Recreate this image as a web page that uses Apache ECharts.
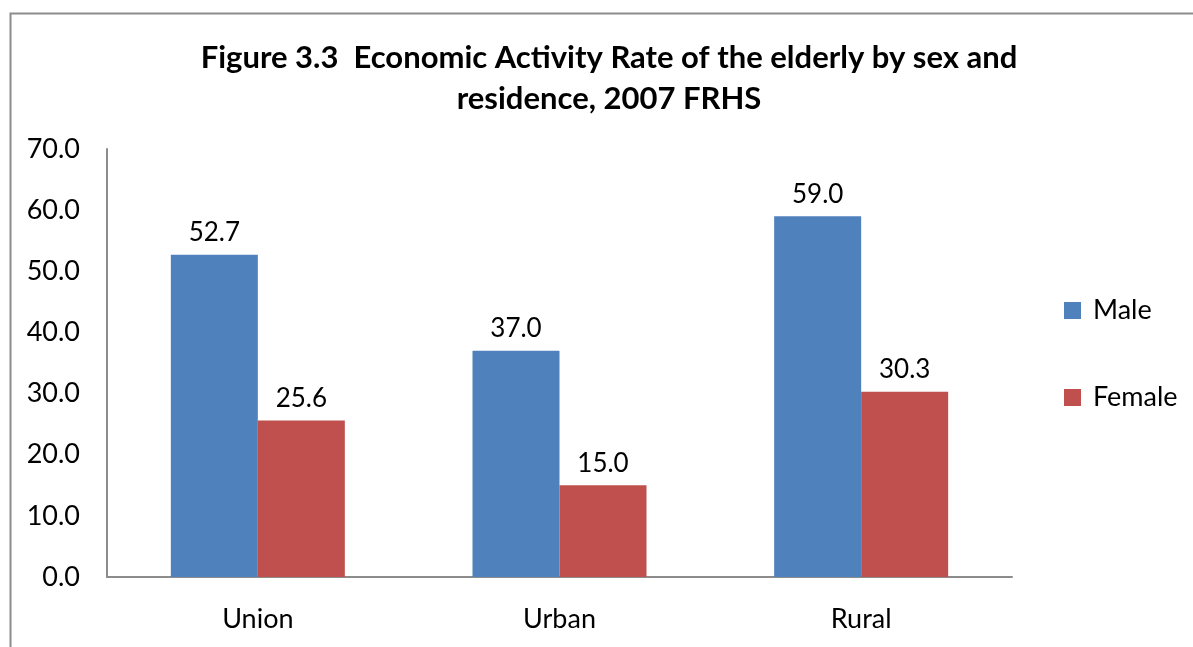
<!DOCTYPE html>
<html>
<head>
<meta charset="utf-8">
<script src="https://cdn.jsdelivr.net/npm/echarts@6/dist/echarts.min.js"></script>
<style>html,body{margin:0;padding:0;background:#fff;}#c{width:1193px;height:647px;}</style>
</head>
<body>
<div id="c"></div>
<script>
const categories = ['Union', 'Urban', 'Rural'];
const maleValues = [52.7, 37.0, 59.0];
const femaleValues = [25.6, 15.0, 30.3];
const seriesNames = ['Male', 'Female'];
const titleText = 'Figure 3.3  Economic Activity Rate of the elderly by sex and\nresidence, 2007 FRHS';

const FONT = 'Lato, "Open Sans", "Liberation Sans", sans-serif';
const chart = echarts.init(document.getElementById('c'), null, {renderer: 'canvas'});
const labelOpt = {
  show: true, position: 'top', distance: 9,
  formatter: p => p.value.toFixed(1),
  fontFamily: FONT, fontSize: 26, color: '#000'
};
chart.setOption({
  animation: false,
  backgroundColor: '#fff',
  graphic: [{
    type: 'rect', left: 8, top: 11,
    shape: {width: 1300, height: 800},
    style: {fill: 'none', stroke: '#8c8c8c', lineWidth: 2}
  }],
  title: {
    text: titleText, left: 604, top: 32, textAlign: 'center',
    textStyle: {fontFamily: FONT, fontWeight: 'bold', fontSize: 31, color: '#000', lineHeight: 41}
  },
  legend: {
    orient: 'vertical', left: 1059, top: 292,
    itemWidth: 17, itemHeight: 17, itemGap: 60,
    icon: 'rect',
    textStyle: {fontFamily: FONT, fontSize: 27, color: '#000', padding: [0, 0, 0, 7]},
    data: seriesNames
  },
  grid: {left: 107, right: 181, top: 149, bottom: 70, containLabel: false},
  xAxis: {
    type: 'category', data: categories,
    axisLine: {show: true, lineStyle: {color: '#8c8c8c', width: 2}},
    axisTick: {show: false},
    axisLabel: {fontFamily: FONT, fontSize: 27, color: '#000', margin: 29}
  },
  yAxis: {
    type: 'value', min: 0, max: 70, interval: 10,
    axisLine: {show: true, lineStyle: {color: '#8c8c8c', width: 2}},
    axisTick: {show: false},
    splitLine: {show: false},
    axisLabel: {fontFamily: FONT, fontSize: 27, color: '#000', margin: 27, formatter: v => v.toFixed(1)}
  },
  series: [
    {name: seriesNames[0], type: 'bar', data: maleValues, barWidth: 87, barGap: '0%',
     itemStyle: {color: '#4f81bd'}, label: labelOpt},
    {name: seriesNames[1], type: 'bar', data: femaleValues, barWidth: 87, barGap: '0%',
     itemStyle: {color: '#c0504d'}, label: labelOpt}
  ]
});
</script>
</body>
</html>
